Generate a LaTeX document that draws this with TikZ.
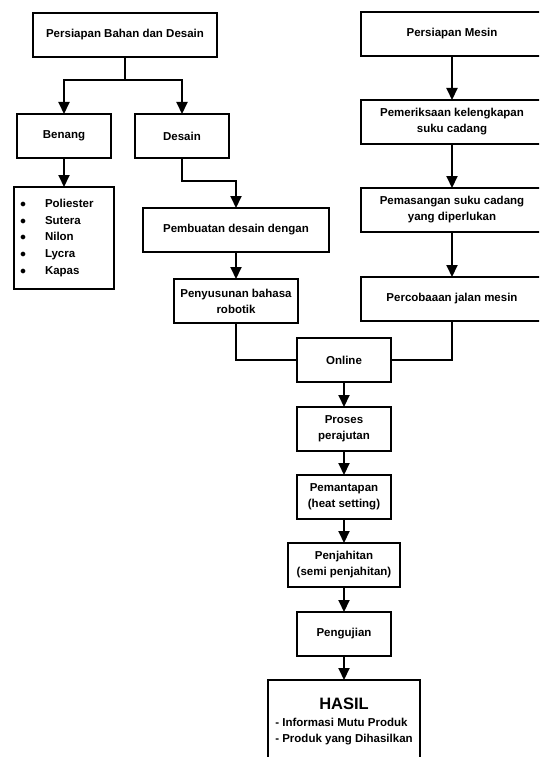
\documentclass[tikz,border=0pt]{standalone}
\usepackage{fontspec}
\setmainfont{Liberation Sans}
\usetikzlibrary{positioning,arrows.meta}
\tikzstyle{block}=[draw, line width=2pt, outer sep=0pt, align=center, inner sep=1pt, minimum height=44pt, font=\bfseries\fontsize{11.5}{16}\selectfont]
\tikzstyle{arrow}=[line width=2pt,-{Triangle[width=11pt,length=12pt]}]
\tikzstyle{line}=[line width=2pt]

\begin{document}
\begin{tikzpicture}[x=1pt,y=-1pt]
\useasboundingbox (0,0) rectangle (539,757);
\clip (0,0) rectangle (539,757);
% left column
\node (bahan) [block, minimum width=184pt] at (125,35) {Persiapan Bahan dan Desain};
\node (benang) [block, minimum width=94pt] at (64,136) {Benang};
\node (desain) [block, minimum width=94pt] at (182,136) {Desain};
\node (bahanlist) [block, below=29pt of benang, minimum width=100pt, minimum height=102pt, text width=88pt, align=left, font=\bfseries\fontsize{11.5}{16.7}\selectfont]
	{\makebox[25pt][l]{$\bullet$}Poliester\\
	 \makebox[25pt][l]{$\bullet$}Sutera\\
	 \makebox[25pt][l]{$\bullet$}Nilon\\
	 \makebox[25pt][l]{$\bullet$}Lycra\\
	 \makebox[25pt][l]{$\bullet$}Kapas};
\node (pembuatan) [block, minimum width=186pt] at (236,230) {Pembuatan desain dengan};
\node (penyusunan) [block, below=27pt of pembuatan, minimum width=124pt] {Penyusunan bahasa\\robotik};
% right column
\node (mesin) [block, minimum width=182pt] at (452,34) {Persiapan Mesin};
\node (periksa) [block, below=44pt of mesin, minimum width=182pt] {Pemeriksaan kelengkapan\\suku cadang};
\node (pasang) [block, below=44pt of periksa, minimum width=182pt] {Pemasangan suku cadang\\yang diperlukan};
\node (coba) [block, below=45pt of pasang, minimum width=182pt] {Percobaaan jalan mesin};
% middle column
\node (online) [block, minimum width=94pt] at (344,360) {Online};
\node (proses) [block, below=25pt of online, minimum width=94pt] {Proses\\perajutan};
\node (mantap) [block, below=24pt of proses, minimum width=94pt] {Pemantapan\\(heat setting)};
\node (jahit) [block, below=24pt of mantap, minimum width=112pt] {Penjahitan\\(semi penjahitan)};
\node (uji) [block, below=25pt of jahit, minimum width=94pt] {Pengujian};
\node (hasil) [block, below=24pt of uji, minimum width=152pt, minimum height=86pt]
	{{\fontsize{16.5}{18}\selectfont HASIL}\\[4pt]
	 \begin{tabular}{@{}l@{}}- Informasi Mutu Produk\\[0.5pt]- Produk yang Dihasilkan\end{tabular}};

\draw[arrow] (bahan.south) -- ++(0,23) -| (benang.north);
\draw[arrow] (bahan.south) -- ++(0,23) -| (desain.north);
\draw[arrow] (desain.south) -- ++(0,23) -| (pembuatan.north);
\draw[line] (penyusunan.south) |- (online.west);
\draw[line] (coba.south) |- (online.east);
\path[arrow]
	(benang) edge (bahanlist)
	(pembuatan) edge (penyusunan)
	(mesin) edge (periksa)
	(periksa) edge (pasang)
	(pasang) edge (coba)
	(online) edge (proses)
	(proses) edge (mantap)
	(mantap) edge (jahit)
	(jahit) edge (uji)
	(uji) edge (hasil);
\end{tikzpicture}
\end{document}
